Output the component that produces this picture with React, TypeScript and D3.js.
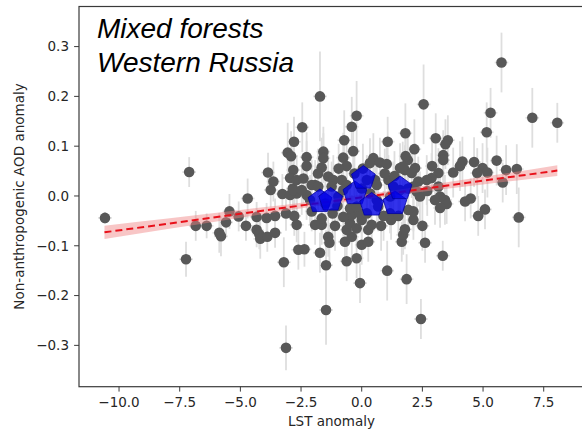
import React from "react";
import * as d3 from "d3";

// Gray points: [LST anomaly, AOD anomaly, y-error]
const pointX = [
  -10.58, -7.24, -7.11, -6.84, -6.39, -5.87, -5.8, -5.59, -5.45, -5.07, -4.77, -4.7, -4.33, -3.92, -3.57,
  -4.33, -4.22, -4.18, -3.89, -3.57, -3.86, -3.64, -3.75, -3.27, -2.84, -2.68, -3.12, -2.78, -2.68, -3.21,
  -3.12, -2.61, -2.36, -2.79, -3.05, -2.91, -2.45, -1.72, -2.27, -2.27, -1.58, -1.58, -1.65, -0.21, -0.41,
  -0.72, -0.35, 1.07, 1.8, -0.76, -0.62, 0.48, 0.34, 0.75, 1.03, 1.58, 1.78, 1.9, 2.55, 2.17,
  1.81, 3.05, 3.55, 3.45, 3.36, 3.36, 4.15, 4.05, 3.77, 4.63, 5.56, 4.98, 4.76, 5.18, 5.95,
  6.39, 5.81, 5.76, 5.31, 5.15, 7.03, 8.06, 2.2, 2.06, 1.69, 3.16, 2.88, 2.68, 3.16, 2.33,
  2.13, 2.27, 2.4, 3.23, 3.02, 3.43, 4.26, 4.49, 5.08, 4.8, 6.47, 3.5, 3.23, 3.34, 2.61,
  2.44, 1.85, 1.05, -0.07, -0.62, -0.21, 0.0, 0.27, -0.69, -0.41, -0.62, -0.48, -0.41, -0.48, -0.21,
  0.0, -0.07, 0.27, 0.41, 0.21, 1.65, 1.71, 1.78, 2.13, 2.13, 1.92, 1.21, 1.17, 1.51, -1.47,
  -1.47, -1.72, -1.38, -1.33, -2.06, -1.92, -1.65, -1.65, -1.92, -1.38, -1.17, -1.24, -0.82, -0.62, 0.21,
  0.55, 0.62, 1.1, 1.3, 1.58, 1.92, -2.27, -2.13, -2.95, -2.82, -0.96, -0.76, -0.21, 0.62, 0.68,
  1.17, -0.76, -2.82, -2.95, -2.68, -2.47, -2.06, -1.79, -1.0, -1.2, 0.9, 0.95, 0.05, -0.3, -1.8,
  2.7, 2.9, 1.35, 0.35, -0.95, -2.4, -1.5, 0.8, 2.5, -1.1, 0.0
];
const pointY = [
  -0.044, -0.127, 0.048, -0.06, -0.06, -0.074, -0.081, -0.053, -0.031, -0.041, -0.06, -0.005, -0.042, -0.044, -0.04,
  -0.068, -0.077, -0.086, -0.082, -0.074, 0.047, 0.029, 0.012, 0.004, 0.015, 0.005, -0.035, -0.04, -0.058, -0.133,
  -0.305, -0.108, -0.107, 0.109, 0.087, 0.08, 0.138, 0.2, 0.078, 0.06, 0.089, 0.076, 0.057, 0.161, 0.139,
  0.112, 0.09, 0.109, 0.126, 0.077, 0.06, 0.076, 0.066, 0.067, 0.064, 0.056, 0.052, 0.072, 0.184, 0.094,
  0.08, 0.116, 0.112, 0.104, 0.082, 0.072, 0.069, 0.06, 0.047, 0.068, 0.071, 0.056, 0.046, 0.047, 0.052,
  0.054, 0.027, 0.268, 0.167, 0.128, 0.157, 0.147, 0.056, 0.046, 0.059, 0.046, 0.036, 0.032, 0.019, 0.029,
  0.019, 0.009, -0.001, -0.001, -0.008, -0.008, -0.011, -0.005, -0.027, -0.04, -0.043, -0.016, -0.024, -0.12, -0.094,
  -0.247, -0.167, -0.15, -0.175, -0.131, -0.125, -0.098, -0.092, -0.092, -0.082, -0.068, -0.055, -0.038, -0.025, -0.065,
  -0.048, -0.035, -0.068, -0.058, -0.035, -0.092, -0.078, -0.067, -0.048, -0.031, -0.028, -0.048, -0.035, -0.04, -0.229,
  -0.139, -0.114, -0.082, -0.094, -0.031, -0.058, -0.058, -0.045, 0.022, 0.039, 0.032, 0.019, 0.032, 0.022, 0.032,
  0.032, 0.022, 0.032, 0.019, 0.012, 0.015, 0.002, -0.008, 0.002, 0.012, -0.001, 0.012, -0.021, -0.008, -0.021,
  -0.001, -0.042, 0.052, 0.036, 0.032, 0.012, 0.022, 0.019, -0.02, -0.035, -0.04, 0.045, 0.055, 0.045, 0.045,
  0.01, 0.06, 0.04, 0.005, 0.055, 0.035, -0.015, -0.06, -0.06, -0.06, 0.015
];
const pointErr = [
  0.012, 0.035, 0.03, 0.03, 0.025, 0.04, 0.04, 0.03, 0.035, 0.03, 0.03, 0.04, 0.03, 0.03, 0.035,
  0.035, 0.03, 0.04, 0.03, 0.03, 0.04, 0.04, 0.035, 0.04, 0.05, 0.04, 0.035, 0.04, 0.035, 0.05,
  0.045, 0.04, 0.035, 0.05, 0.06, 0.05, 0.05, 0.09, 0.05, 0.05, 0.05, 0.05, 0.06, 0.07, 0.06,
  0.06, 0.05, 0.05, 0.06, 0.05, 0.05, 0.05, 0.05, 0.05, 0.05, 0.05, 0.05, 0.05, 0.08, 0.06,
  0.05, 0.05, 0.05, 0.05, 0.05, 0.05, 0.05, 0.05, 0.05, 0.05, 0.05, 0.05, 0.05, 0.05, 0.05,
  0.05, 0.04, 0.06, 0.05, 0.06, 0.06, 0.04, 0.05, 0.05, 0.05, 0.05, 0.05, 0.05, 0.04, 0.05,
  0.05, 0.05, 0.05, 0.05, 0.05, 0.05, 0.04, 0.04, 0.04, 0.04, 0.06, 0.04, 0.04, 0.03, 0.04,
  0.04, 0.05, 0.06, 0.04, 0.04, 0.04, 0.04, 0.04, 0.04, 0.04, 0.04, 0.04, 0.04, 0.04, 0.04,
  0.04, 0.04, 0.04, 0.04, 0.04, 0.04, 0.04, 0.04, 0.04, 0.04, 0.04, 0.04, 0.04, 0.04, 0.07,
  0.07, 0.04, 0.04, 0.04, 0.04, 0.04, 0.04, 0.04, 0.05, 0.05, 0.05, 0.05, 0.05, 0.05, 0.05,
  0.05, 0.05, 0.05, 0.05, 0.05, 0.05, 0.05, 0.05, 0.05, 0.05, 0.05, 0.05, 0.05, 0.05, 0.05,
  0.05, 0.04, 0.05, 0.05, 0.05, 0.05, 0.05, 0.05, 0.05, 0.05, 0.05, 0.05, 0.05, 0.05, 0.05,
  0.05, 0.05, 0.05, 0.05, 0.05, 0.05, 0.05, 0.05, 0.05, 0.05, 0.05
];

// Blue pentagons (binned means)
const binX = [-1.72, -1.28, -0.28, 0.07, 0.41, 1.37, 1.58];
const binY = [-0.011, -0.008, 0.005, 0.036, -0.018, -0.015, 0.015];

// Regression line and confidence band
const fitX = [-10.6, 8.06];
const fitY = [-0.073, 0.051];
const bandX = [-10.6, -8, -5, -2, 0, 2, 5, 8.06];
const bandHalf = [0.0134, 0.0106, 0.0077, 0.0055, 0.005, 0.0055, 0.0077, 0.0107];

const xTicks = [-10, -7.5, -5, -2.5, 0, 2.5, 5, 7.5];
const yTicks = [-0.3, -0.2, -0.1, 0.0, 0.1, 0.2, 0.3];

const titleLines = ["Mixed forests", "Western Russia"];
const xLabel = "LST anomaly";
const yLabel = "Non-anthropogenic AOD anomaly";

const W = 582;
const H = 432;

export default function App() {
  const x = d3.scaleLinear().domain([-11.65, 9.16]).range([79, 584]);
  const y = d3.scaleLinear().domain([-0.383, 0.3805]).range([386.7, 6.5]);
  const fit = d3.scaleLinear().domain(fitX).range(fitY);

  const band = d3
    .area<number>()
    .x((d) => x(d))
    .y0((d, i) => y(fit(d) - bandHalf[i]))
    .y1((d, i) => y(fit(d) + bandHalf[i]))
    .curve(d3.curveMonotoneX);

  const fmt = (v: number) => d3.format(".1f")(v).replace("-", "\u2212");
  const font = "'DejaVu Sans', sans-serif";
  const tickLen = 4.9;
  const axisColor = "#3a3a3a";

  const pentagon = (cx: number, cy: number, r: number) => {
    const pts = d3.range(5).map((k) => {
      const a = -Math.PI / 2 + (k * 2 * Math.PI) / 5;
      return [cx + r * Math.cos(a), cy + r * Math.sin(a)] as [number, number];
    });
    return d3.line()(pts) + "Z";
  };

  return (
    <svg
      width={W}
      height={H}
      style={{ position: "absolute", left: 0, top: 0, background: "#fff" }}
      xmlns="http://www.w3.org/2000/svg"
    >
      <rect x={0} y={0} width={W} height={H} fill="#fff" />
      {/* error bars */}
      <g stroke="#dedede" strokeWidth={1.8}>
        {pointX.map((px, i) => (
          <g key={i}>
            <line x1={x(px)} x2={x(px)} y1={y(pointY[i] - pointErr[i])} y2={y(pointY[i] + pointErr[i])} />
            <line x1={x(px - 0.28)} x2={x(px + 0.28)} y1={y(pointY[i])} y2={y(pointY[i])} />
          </g>
        ))}
      </g>
      {/* points */}
      <g fill="#585858">
        {pointX.map((px, i) => (
          <circle key={i} cx={x(px)} cy={y(pointY[i])} r={5.3} />
        ))}
      </g>
      {/* regression band and line */}
      <path d={band(bandX) || ""} fill="#f08080" fillOpacity={0.45} stroke="none" />
      <line
        x1={x(fitX[0])}
        y1={y(fitY[0])}
        x2={x(fitX[1])}
        y2={y(fitY[1])}
        stroke="#e8101a"
        strokeWidth={2}
        strokeDasharray="7,4"
      />
      {/* blue pentagons */}
      <g fill="#0000e6" fillOpacity={0.8} stroke="#0000a0" strokeWidth={0.8}>
        {binX.map((bx, i) => (
          <path key={i} d={pentagon(x(bx), y(binY[i]), 12.5)} />
        ))}
      </g>
      {/* frame */}
      <rect x={79} y={6.5} width={505} height={380.2} fill="none" stroke={axisColor} strokeWidth={1.2} />
      {/* x axis */}
      <g fontFamily={font} fontSize={13.5} fill="#262626">
        {xTicks.map((t) => (
          <g key={t}>
            <line x1={x(t)} x2={x(t)} y1={386.7} y2={386.7 + tickLen} stroke={axisColor} strokeWidth={1} />
            <text x={x(t)} y={407} textAnchor="middle">
              {fmt(t)}
            </text>
          </g>
        ))}
        <text x={331.5} y={425.5} textAnchor="middle">
          {xLabel}
        </text>
      </g>
      {/* y axis */}
      <g fontFamily={font} fontSize={13.5} fill="#262626">
        {yTicks.map((t) => (
          <g key={t}>
            <line x1={79} x2={79 - tickLen} y1={y(t)} y2={y(t)} stroke={axisColor} strokeWidth={1} />
            <text x={69} y={y(t)} dy="0.36em" textAnchor="end">
              {fmt(t)}
            </text>
          </g>
        ))}
        <text transform={`translate(24,196.5) rotate(-90)`} textAnchor="middle">
          {yLabel}
        </text>
      </g>
      {/* title */}
      <g fontFamily="'Liberation Sans', Arial, sans-serif" fontStyle="italic" fontSize={28} fill="#000">
        {titleLines.map((t, i) => (
          <text key={i} x={97} y={38 + i * 34}>
            {t}
          </text>
        ))}
      </g>
    </svg>
  );
}
